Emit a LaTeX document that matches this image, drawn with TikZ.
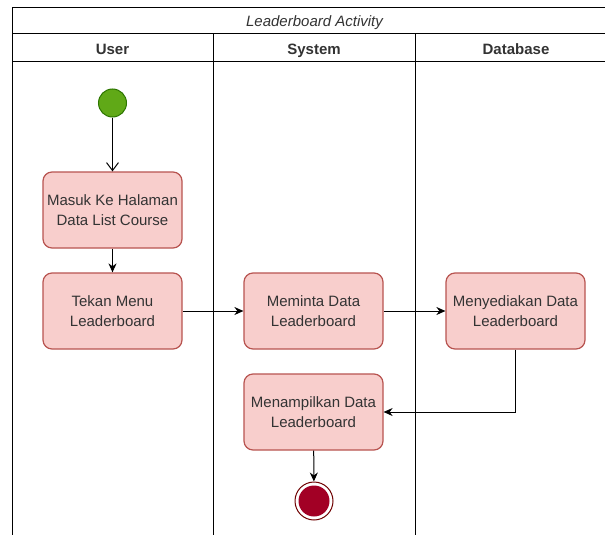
\documentclass[tikz,border=0pt]{standalone}
\usepackage{fontspec}
\setmainfont{Liberation Sans}
\usetikzlibrary{arrows.meta}
\definecolor{actfill}{HTML}{F8CECC}
\definecolor{actline}{HTML}{B85450}
\definecolor{startfill}{HTML}{60A917}
\definecolor{startline}{HTML}{2D7600}
\definecolor{endfill}{HTML}{A20025}
\definecolor{endline}{HTML}{6F0000}
\definecolor{txt}{HTML}{333333}
\tikzset{act/.style={draw=actline,fill=actfill,line width=1.2pt,rounded corners=9pt,minimum width=139pt,minimum height=76pt,align=center,text=txt,font=\fontsize{15}{19.5}\selectfont},
flow/.style={-{Stealth[length=9pt,width=8pt]},line width=1pt},
lane/.style={font=\bfseries\fontsize{15}{18}\selectfont,text=txt,text height=11pt,text depth=3pt}}
\begin{document}
\begin{tikzpicture}[x=1pt,y=-1pt]
\useasboundingbox (0,0) rectangle (605,535);
\fill[white] (0,0) rectangle (605,535);
\foreach \Y in {8,34,62} {\draw[line width=1pt] (12,\Y)--(620,\Y); }
\draw[line width=1pt] (12,8)--(12,540);
\foreach \X in {213,415} {\draw[line width=1pt] (\X,34)--(\X,540);}
\node[font=\itshape\fontsize{15}{18}\selectfont,text=txt,text height=11pt,text depth=3pt] (title) at (314.5,23) {Leaderboard Activity};
\node[lane] (user) at (112.5,51) {User}; \node[lane] (system) at (314,51) {System}; \node[lane] (database) at (516,51) {Database};
% activities
\node[circle,draw=startline,fill=startfill,line width=1pt,minimum size=28pt,inner sep=0pt] (start) at (112.5,103) {};
\node[act] (masuk) at (112.5,210) {Masuk Ke Halaman\\Data List Course};
\node[act] (tekan) at (112.5,311) {Tekan Menu\\Leaderboard};
\node[act] (minta) at (313.5,311) {Meminta Data\\Leaderboard};
\node[act] (sedia) at (515.5,311) {Menyediakan Data\\Leaderboard};
\node[act] (tampil) at (313.5,412) {Menampilkan Data\\Leaderboard};
\node[circle,draw=endline,fill=white,line width=1pt,minimum size=38pt,inner sep=0pt,
  path picture={\fill[endfill] (path picture bounding box.center) circle (15.5pt);}] (stop) at (314,501) {};
% flows
\draw[-{Straight Barb[length=8pt,width=12pt]},line width=1pt] (start)--(masuk);
\draw[flow] (masuk)--(tekan); \draw[flow] (tekan)--(minta); \draw[flow] (minta)--(sedia);
\draw[flow] (sedia.south) |- (tampil.east);
\draw[flow] (tampil)--(stop);
\end{tikzpicture}
\end{document}
